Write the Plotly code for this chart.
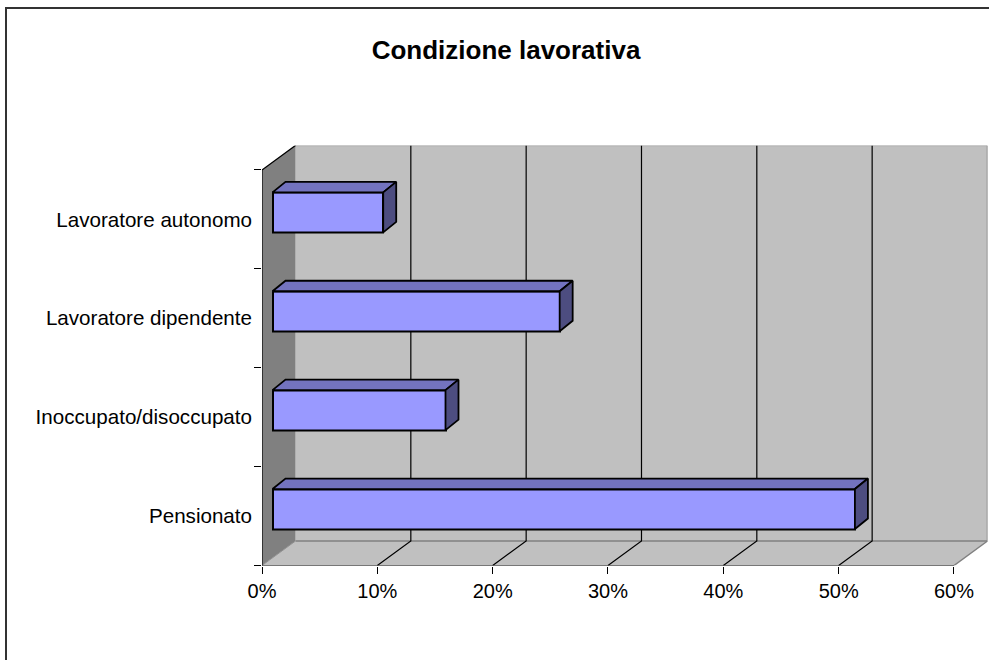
import plotly.graph_objects as go

# Data
categories = ["Pensionato", "Inoccupato/disoccupato", "Lavoratore dipendente", "Lavoratore autonomo"]
values = [50.5, 15.0, 24.9, 9.6]
tick_values = [0, 10, 20, 30, 40, 50, 60]
tick_labels = ["0%", "10%", "20%", "30%", "40%", "50%", "60%"]
title_text = "Condizione lavorativa"

# Projection of the fake 3D box, in axis units
PX_PER_PCT = 11.533
PX_PER_CAT = 98.9
WALL_DX = 33.5 / PX_PER_PCT
WALL_DY = 24.5 / PX_PER_CAT
BAR_DX = 13 / PX_PER_PCT
BAR_DY = 10.5 / PX_PER_CAT
BAR_BASE = 10.5 / PX_PER_PCT
BAR_CENTER = 0.571
BAR_H = 40 / PX_PER_CAT
N = len(categories)
XMAX = tick_values[-1]
PX0, PY0 = 262, 565.5
W, H = 989, 660
x_range = [0, XMAX + WALL_DX]
y_range = [0, N + WALL_DY]

fig = go.Figure()


def add_path(xs, ys, fill=None, line="rgba(0,0,0,0)", width=1.0, ax=("x", "y")):
    fig.add_trace(go.Scatter(
        x=xs, y=ys, mode="lines", xaxis=ax[0], yaxis=ax[1],
        fill="toself" if fill else "none", fillcolor=fill,
        line=dict(color=line, width=width), hoverinfo="skip", showlegend=False))


# Walls and floor
add_path([WALL_DX, XMAX + WALL_DX, XMAX + WALL_DX, WALL_DX, WALL_DX],
         [WALL_DY, WALL_DY, N + WALL_DY, N + WALL_DY, WALL_DY], fill="#C0C0C0")
add_path([0, XMAX, XMAX + WALL_DX, WALL_DX, 0], [0, 0, WALL_DY, WALL_DY, 0], fill="#C0C0C0")
add_path([0, WALL_DX, WALL_DX, 0, 0], [0, WALL_DY, N + WALL_DY, N, 0], fill="#808080")
# Wall edges
add_path([WALL_DX, XMAX + WALL_DX, XMAX + WALL_DX], [WALL_DY, WALL_DY, N + WALL_DY], line="#808080", width=1.5)
add_path([XMAX, XMAX + WALL_DX], [0, WALL_DY], line="#808080", width=1.5)
add_path([0, WALL_DX], [0, WALL_DY], line="#909090", width=1)
add_path([WALL_DX, XMAX + WALL_DX], [N + WALL_DY, N + WALL_DY], line="#A6A6A6", width=1.5)
# Gridlines across the wall and the floor
gx, gy = [], []
for t in tick_values[1:-1]:
    gx += [t, t + WALL_DX, t + WALL_DX, None]
    gy += [0, WALL_DY, N + WALL_DY, None]
add_path(gx, gy, line="#000000", width=1.2)
# Axis lines
add_path([0, XMAX], [0, 0], line="#000000", width=1.2)
add_path([WALL_DX, 0, 0], [N + WALL_DY, N, 0], line="#000000", width=1.2)

# Bars (front faces on an overlay so they sit on top of the walls)
positions = [i + BAR_CENTER for i in range(N)]
fig.add_trace(go.Bar(
    x=values, y=positions, base=[BAR_BASE] * N, orientation="h", width=BAR_H,
    marker=dict(color="#9999FF", line=dict(color="#000000", width=2)),
    xaxis="x2", yaxis="y2", hoverinfo="skip", showlegend=False))
for v, p in zip(values, positions):
    x0, x1 = BAR_BASE, BAR_BASE + v
    y0, y1 = p - BAR_H / 2, p + BAR_H / 2
    add_path([x0, x1, x1 + BAR_DX, x0 + BAR_DX, x0], [y1, y1, y1 + BAR_DY, y1 + BAR_DY, y1],
             fill="#7373BF", line="#000000", width=1.8, ax=("x2", "y2"))
    add_path([x1, x1 + BAR_DX, x1 + BAR_DX, x1, x1], [y0, y0 + BAR_DY, y1 + BAR_DY, y1, y0],
             fill="#4D4D80", line="#000000", width=1.8, ax=("x2", "y2"))

x_dom = [PX0 / W, (PX0 + (XMAX + WALL_DX) * PX_PER_PCT) / W]
y_dom = [(H - PY0) / H, (H - PY0 + (N + WALL_DY) * PX_PER_CAT) / H]
font = dict(family="Liberation Sans, Arial, sans-serif", size=20, color="#000000")
yfont = dict(family="Liberation Sans, Arial, sans-serif", size=20.6, color="#000000")

fig.update_layout(
    width=W, height=H, margin=dict(l=0, r=0, t=0, b=0, pad=0, autoexpand=False), autosize=False,
    paper_bgcolor="#FFFFFF", plot_bgcolor="rgba(0,0,0,0)", font=font, showlegend=False,
    bargap=0,
    title=dict(text="<b>" + title_text + "</b>", x=506 / W, xanchor="center", y=1 - 50 / H, yanchor="middle",
               font=dict(family="Liberation Sans, Arial, sans-serif", size=26, color="#000000")),
    xaxis=dict(domain=x_dom, range=x_range, tickmode="array", tickvals=tick_values, ticktext=tick_labels,
               ticks="outside", ticklen=7, tickcolor="#000000", tickwidth=1, showgrid=False, zeroline=False,
               showline=False, tickfont=font, ticklabelstandoff=0, automargin=False),
    yaxis=dict(domain=y_dom, range=y_range, tickmode="array", tickvals=[i + 0.5 for i in range(N)],
               ticktext=categories, ticks="", showgrid=False, zeroline=False, showline=False, tickfont=yfont,
               ticklabelstandoff=9, automargin=False,
               minor=dict(tickmode="array", tickvals=list(range(N + 1)), ticks="outside", ticklen=7,
                          tickcolor="#000000", tickwidth=1, showgrid=False)),
    xaxis2=dict(domain=x_dom, range=x_range, overlaying="x", anchor="y2", visible=False),
    yaxis2=dict(domain=y_dom, range=y_range, overlaying="y", anchor="x2", visible=False),
    shapes=[dict(type="rect", xref="paper", yref="paper", x0=6 / W, x1=1.01, y0=-0.01, y1=1 - 8 / H,
                 line=dict(color="#333333", width=2), fillcolor="rgba(0,0,0,0)", layer="below")],
)

fig.write_html("out.html", config={"displayModeBar": False},
               post_script="document.body.style.margin='0';document.body.style.overflow='hidden';")
